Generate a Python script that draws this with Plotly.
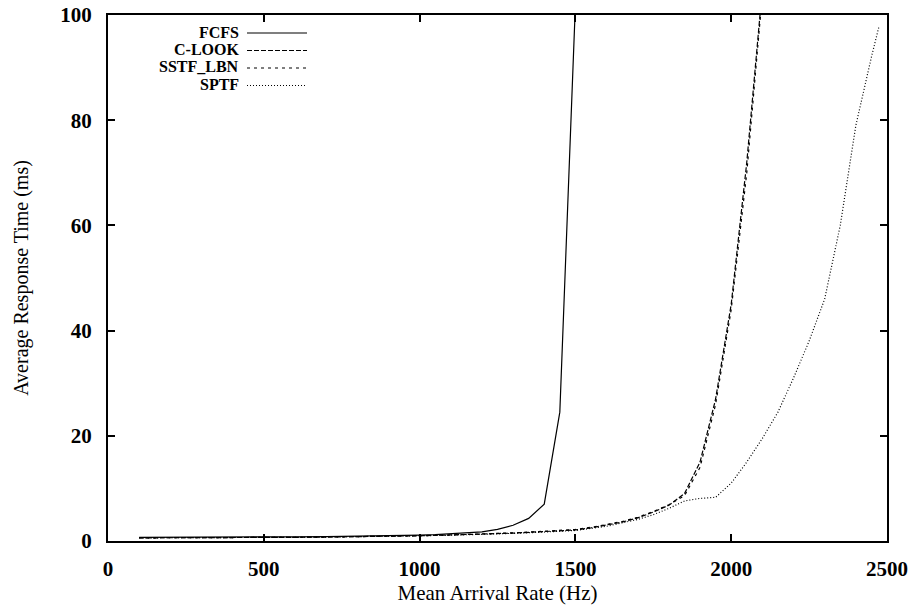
import plotly.graph_objects as go

# ---- data ----
fcfs_x = [100, 200, 300, 400, 500, 600, 700, 800, 900, 1000, 1050, 1100, 1150, 1200,
          1250, 1300, 1350, 1400, 1450, 1500]
fcfs_y = [0.7, 0.7, 0.7, 0.7, 0.75, 0.8, 0.85, 0.9, 1.0, 1.1, 1.2, 1.35, 1.5, 1.75,
          2.2, 3.0, 4.3, 7.0, 24.5, 102]

clook_x = [100, 200, 300, 400, 500, 600, 700, 800, 900, 1000, 1100, 1200, 1300, 1400,
           1500, 1550, 1600, 1650, 1700, 1750, 1800, 1850, 1900, 1950, 2000, 2050, 2100]
clook_y = [0.6, 0.6, 0.6, 0.6, 0.65, 0.7, 0.75, 0.8, 0.9, 1.0, 1.15, 1.3, 1.5, 1.8,
           2.1, 2.5, 3.0, 3.6, 4.4, 5.5, 6.8, 9.0, 15.0, 27, 45, 72, 105]

sstf_x = clook_x
sstf_y = [0.6, 0.6, 0.6, 0.6, 0.65, 0.7, 0.75, 0.8, 0.9, 1.0, 1.15, 1.3, 1.55, 1.85,
          2.2, 2.6, 3.1, 3.7, 4.5, 5.6, 6.9, 8.6, 14.0, 26, 44, 70, 104]

sptf_x = [100, 200, 300, 400, 500, 600, 700, 800, 900, 1000, 1100, 1200, 1300, 1400,
          1500, 1600, 1700, 1750, 1800, 1850, 1900, 1950, 2000, 2050, 2100, 2150, 2200,
          2250, 2300, 2350, 2400, 2450, 2475]
sptf_y = [0.6, 0.6, 0.6, 0.6, 0.65, 0.7, 0.75, 0.8, 0.9, 1.0, 1.1, 1.25, 1.45, 1.7,
          2.0, 2.8, 4.1, 5.0, 6.2, 7.6, 8.1, 8.3, 11, 15, 19.5, 24.5, 31,
          38, 46, 60, 79, 92, 98]

series_names = ["FCFS", "C-LOOK", "SSTF_LBN", "SPTF"]
series_dash = ["solid", "5px,2px", "3px,4px", "1px,2px"]

x_ticks = [0, 500, 1000, 1500, 2000, 2500]
y_ticks = [0, 20, 40, 60, 80, 100]

SERIF = "Liberation Serif, Times New Roman, serif"

fig = go.Figure()
for name, xs, ys, dash in zip(series_names,
                              [fcfs_x, clook_x, sstf_x, sptf_x],
                              [fcfs_y, clook_y, sstf_y, sptf_y],
                              series_dash):
    fig.add_trace(go.Scatter(x=xs, y=ys, mode="lines", name=name,
                             line=dict(color="black", width=1.2, dash=dash),
                             showlegend=False))

# manual legend (text right-aligned, sample to the right) in paper coords
W, H = 908, 606
L, R, T, B = 108, 21, 15, 65
pw, ph = W - L - R, H - T - B
def px_x(p):
    return (p - L) / pw
def px_y(p):
    return (H - B - p) / ph

leg_rows = [32, 49.5, 67, 84.5]
for name, dash, yy in zip(series_names, series_dash, leg_rows):
    fig.add_annotation(x=px_x(241), y=px_y(yy), xref="paper", yref="paper",
                       text="<b>%s</b>" % name, showarrow=False,
                       xanchor="right", yanchor="middle",
                       font=dict(family=SERIF, size=16, color="black"))
    fig.add_shape(type="line", xref="paper", yref="paper",
                  x0=px_x(247), x1=px_x(307), y0=px_y(yy + 1), y1=px_y(yy + 1),
                  line=dict(color="black", width=1.2, dash=dash))

axis_common = dict(showgrid=False, zeroline=False, showline=True, linecolor="black",
                   linewidth=2, mirror="ticks", ticks="inside", ticklen=7,
                   tickwidth=1.5, tickcolor="black", automargin=False,
                   tickfont=dict(family=SERIF, size=21, color="black"))

fig.update_xaxes(range=[0, 2500], tickvals=x_ticks,
                 ticktext=["<b>%d</b>" % v for v in x_ticks],
                 ticklabelstandoff=8,
                 title=dict(text="Mean Arrival Rate (Hz)", standoff=2,
                            font=dict(family=SERIF, size=21, color="black")),
                 **axis_common)
fig.update_yaxes(range=[0, 100], tickvals=y_ticks,
                 ticktext=["<b>%d</b>" % v for v in y_ticks],
                 ticklabelstandoff=10,
                 title=dict(text="Average Response Time (ms)", standoff=26,
                            font=dict(family=SERIF, size=20, color="black")),
                 **axis_common)

fig.update_layout(width=W, height=H, margin=dict(l=L, r=R, t=T, b=B, autoexpand=False),
                  plot_bgcolor="white", paper_bgcolor="white")

fig.write_html("out.html", config={"displayModeBar": False},
               post_script="document.body.style.margin='0';"
                           "document.body.style.overflow='hidden';")
